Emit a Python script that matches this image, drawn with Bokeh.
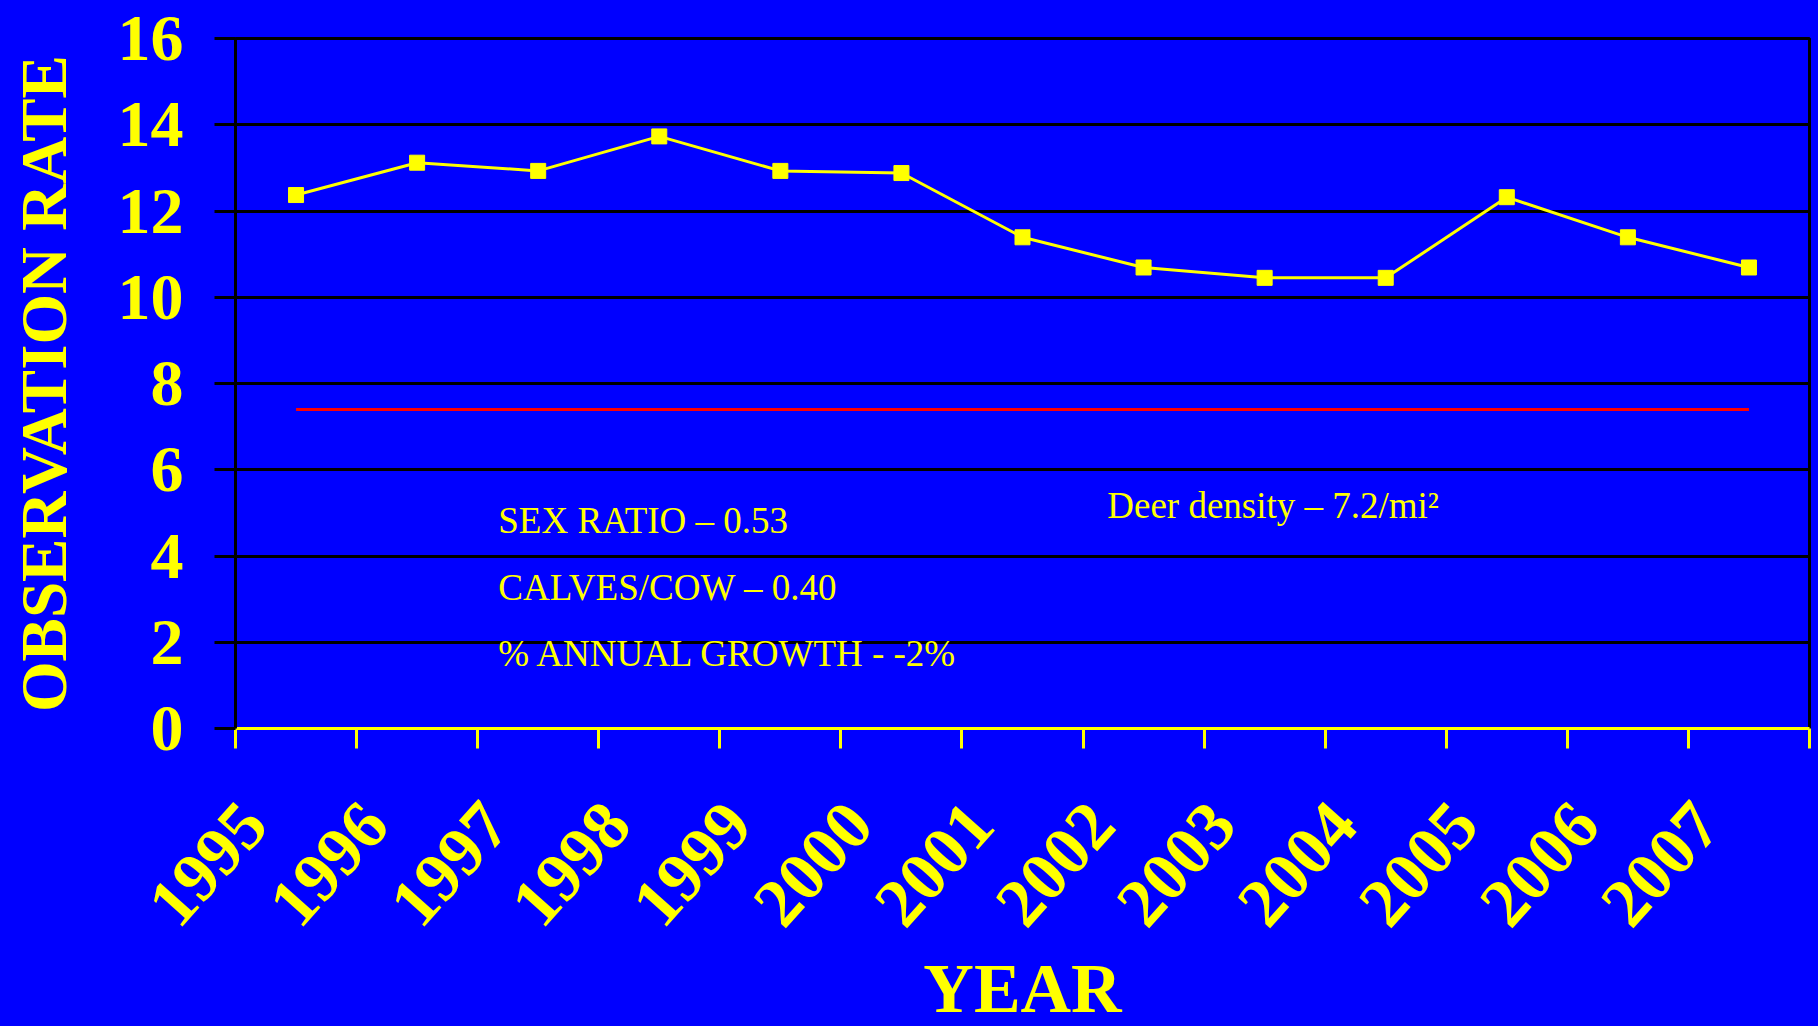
from bokeh.plotting import figure
from bokeh.models import Range1d, FixedTicker, Label, ColumnDataSource
from bokeh.embed import file_html
from bokeh.resources import INLINE

years = ["1995", "1996", "1997", "1998", "1999", "2000", "2001",
         "2002", "2003", "2004", "2005", "2006", "2007"]
observation_rate = [12.37, 13.12, 12.93, 13.73, 12.93, 12.88, 11.39,
                    10.69, 10.45, 10.45, 12.32, 11.39, 10.69]
threshold_rate = [7.4] * len(years)
y_ticks = [0, 2, 4, 6, 8, 10, 12, 14, 16]

BLUE = "#0000ff"
YELLOW = "#ffff00"
FONT = "Liberation Serif"

x_pos = [i + 0.5 for i in range(len(years))]
label_pos = [i + 0.15 for i in range(len(years))]   # rotated labels end left of centre
src = ColumnDataSource(dict(x=x_pos, rate=observation_rate, thr=threshold_rate))

p = figure(width=1818, height=1026, output_backend="svg", toolbar_location=None,
           x_range=Range1d(0, len(years)), y_range=Range1d(0, 16),
           background_fill_color=BLUE, border_fill_color=BLUE,
           min_border_left=235, min_border_right=9, min_border_top=38,
           min_border_bottom=298, outline_line_color="black",
           outline_line_width=3)

p.line("x", "thr", source=src, line_color="#ff0000", line_width=3)
p.line("x", "rate", source=src, line_color=YELLOW, line_width=3)
p.scatter("x", "rate", source=src, marker="square", size=15,
          fill_color=YELLOW, line_color=YELLOW)

# grid
p.xgrid.grid_line_color = None
p.ygrid.grid_line_color = "black"
p.ygrid.grid_line_width = 3

# x axis
xa = p.xaxis[0]
xa.ticker = FixedTicker(ticks=label_pos, minor_ticks=list(range(len(years) + 1)))
xa.major_label_overrides = {x: y for x, y in zip(label_pos, years)}
xa.major_tick_line_color = None
xa.major_tick_out = 20
xa.major_tick_in = 0
xa.minor_tick_line_color = YELLOW
xa.minor_tick_line_width = 3
xa.minor_tick_out = 20
xa.minor_tick_in = 0
xa.axis_line_color = YELLOW
xa.axis_line_width = 3
xa.major_label_orientation = 0.84
xa.major_label_standoff = 64
xa.major_label_text_font = FONT
xa.major_label_text_font_style = "bold"
xa.major_label_text_font_size = "69px"
xa.major_label_text_color = YELLOW

# y axis
ya = p.yaxis[0]
ya.ticker = FixedTicker(ticks=y_ticks)
ya.minor_tick_line_color = None
ya.major_tick_line_color = "black"
ya.major_tick_line_width = 3
ya.major_tick_out = 21
ya.major_tick_in = 0
ya.axis_line_color = "black"
ya.axis_line_width = 3
ya.major_label_standoff = 31
ya.major_label_text_font = FONT
ya.major_label_text_font_style = "bold"
ya.major_label_text_font_size = "66px"
ya.major_label_text_color = YELLOW
ya.axis_label = "OBSERVATION RATE"
ya.axis_label_text_font = FONT
ya.axis_label_text_font_style = "bold"
ya.axis_label_text_font_size = "65px"
ya.axis_label_text_color = YELLOW
ya.axis_label_standoff = 35

# x axis title, placed in the panel below the axis
p.add_layout(Label(x=len(years) / 2, y=37, y_units="screen", text="YEAR",
                   text_font=FONT, text_font_style="bold", text_font_size="70px",
                   text_color=YELLOW, text_align="center", text_baseline="alphabetic"),
             "below")

# annotations
notes = [("SEX RATIO – 0.53", 2.17, 4.83),
         ("CALVES/COW – 0.40", 2.17, 3.28),
         ("% ANNUAL GROWTH - -2%", 2.17, 1.73),
         ("Deer density – 7.2/mi²", 7.2, 5.17)]
for t, x, y in notes:
    p.add_layout(Label(x=x, y=y, text=t, text_font=FONT, text_font_size="37px",
                       text_color=YELLOW, text_baseline="middle", text_align="left"))

html = file_html(p, INLINE)
html = html.replace("<body>", '<body style="background:#0000ff">')
open("out.html", "w").write(html)
